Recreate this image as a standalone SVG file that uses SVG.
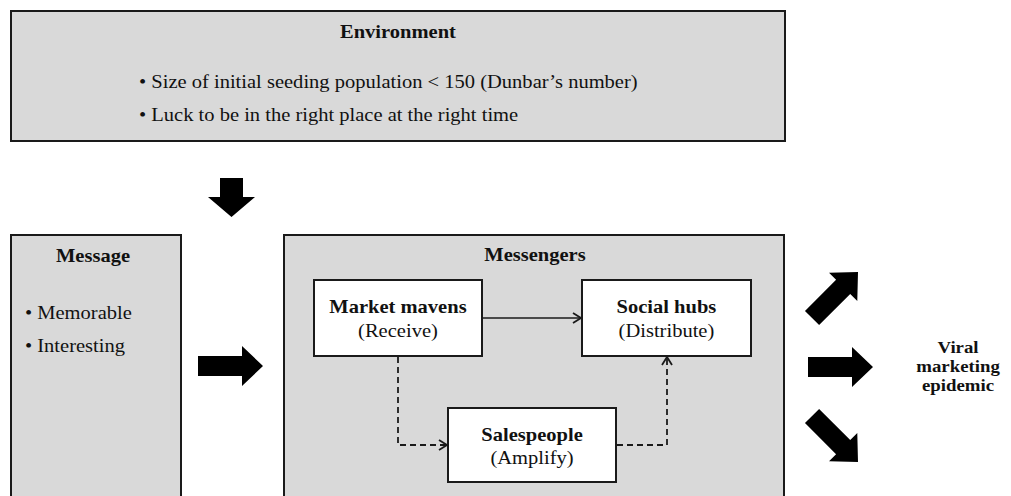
<svg xmlns="http://www.w3.org/2000/svg" width="1011" height="496" viewBox="0 0 1011 496">
<defs>
<style>
.panel{fill:#d9d9d9;stroke:#1a1a1a;stroke-width:2}
.node{fill:#fff;stroke:#1a1a1a;stroke-width:2}
.t{font-family:"Liberation Serif","Times New Roman",serif;font-size:18px;fill:#111}
.b{font-weight:bold}
.c{text-anchor:middle}
.v{font-size:16.5px}
.link{fill:none;stroke:#1a1a1a;stroke-width:1.4}
.dash{stroke-dasharray:6 4;stroke-width:1.8}
.big{fill:#000}
</style>
<marker id="chev" markerUnits="userSpaceOnUse" markerWidth="12" markerHeight="12" viewBox="0 0 12 12" refX="10" refY="6" orient="auto"><path d="M2,1 L10,6 L2,11" fill="none" stroke="#1a1a1a" stroke-width="1.8"/></marker>
<path id="barrow" d="M-65,-10 H-21 V-20 L0,0 L-21,20 V10 H-65 Z"/>
</defs>
<rect width="1011" height="496" fill="#fff"/>

<g id="environment">
<rect class="panel" x="11" y="11" width="774" height="130"/>
<text class="t b c" transform="scale(1.14 1)" x="349.1" y="38">Environment</text>
<text class="t" transform="scale(1.14 1)" x="121.9" y="88">• Size of initial seeding population &lt; 150 (Dunbar’s number)</text>
<text class="t" transform="scale(1.14 1)" x="121.9" y="121">• Luck to be in the right place at the right time</text>
</g>

<g id="message">
<rect class="panel" x="11" y="235" width="170" height="270"/>
<text class="t b c" transform="scale(1.14 1)" x="81.6" y="262">Message</text>
<text class="t" transform="scale(1.14 1)" x="21.9" y="319">• Memorable</text>
<text class="t" transform="scale(1.14 1)" x="21.9" y="352">• Interesting</text>
</g>

<g id="messengers">
<rect class="panel" x="284" y="235" width="500" height="270"/>
<text class="t b c" transform="scale(1.14 1)" x="469.3" y="261">Messengers</text>
</g>

<g id="market-mavens">
<rect class="node" x="314" y="280" width="168" height="76"/>
<text class="t b c" transform="scale(1.14 1)" x="349.1" y="313">Market mavens</text>
<text class="t c" transform="scale(1.14 1)" x="349.1" y="337">(Receive)</text>
</g>

<g id="social-hubs">
<rect class="node" x="582" y="280" width="169" height="76"/>
<text class="t b c" transform="scale(1.14 1)" x="584.6" y="313">Social hubs</text>
<text class="t c" transform="scale(1.14 1)" x="584.6" y="337">(Distribute)</text>
</g>

<g id="salespeople">
<rect class="node" x="448" y="408" width="168" height="74"/>
<text class="t b c" transform="scale(1.14 1)" x="466.7" y="441">Salespeople</text>
<text class="t c" transform="scale(1.14 1)" x="466.7" y="464">(Amplify)</text>
</g>

<g id="viral-marketing-epidemic">
<text class="t b c v" transform="scale(1.14 1)" x="840.4" y="353">Viral</text>
<text class="t b c v" transform="scale(1.14 1)" x="840.4" y="372">marketing</text>
<text class="t b c v" transform="scale(1.14 1)" x="840.4" y="391">epidemic</text>
</g>

<g id="connectors">
<path class="link" d="M482,318 H581" marker-end="url(#chev)"/>
<path class="link dash" d="M398,357 V445 H447" marker-end="url(#chev)"/>
<path class="link dash" d="M617,445 H667 V357" marker-end="url(#chev)"/>
<path class="big" d="M220,178 H243 V197 H255 L231.5,217 L208,197 H220 Z"/>
<use class="big" href="#barrow" transform="translate(263,366)"/>
<use class="big" href="#barrow" transform="translate(873,367)"/>
<use class="big" href="#barrow" transform="translate(858,272) rotate(-45)"/>
<use class="big" href="#barrow" transform="translate(858,462) rotate(45)"/>
</g>
</svg>
